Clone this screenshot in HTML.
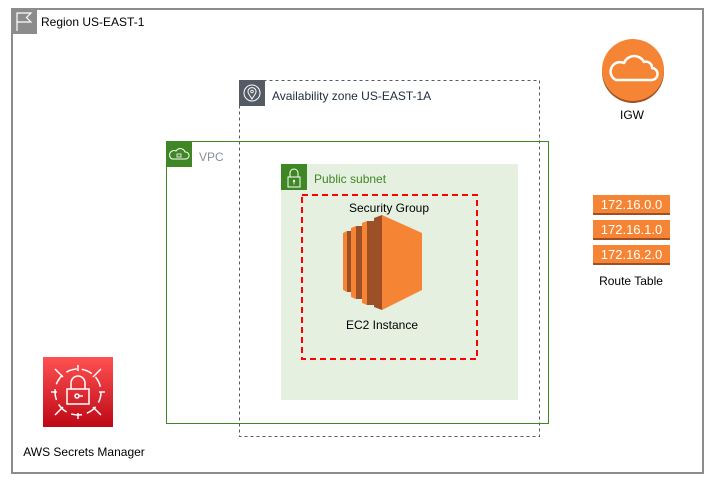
<!DOCTYPE html>
<html><head><meta charset="utf-8"><style>
html,body{margin:0;padding:0;background:#fff;}
svg{display:block;font-family:"Liberation Sans",Arial,sans-serif;}
</style></head><body>
<svg width="715" height="485" viewBox="0 0 715 485" xmlns="http://www.w3.org/2000/svg">
<!-- Region -->
<rect x="12" y="9" width="691" height="464" fill="#fff" stroke="#8c8c8c" stroke-width="2"/>
<rect x="11" y="8" width="26" height="26" fill="#8c8c8c"/>
<path d="M17 31 V13 H31 L26.5 17.5 L31 22 H17" fill="none" stroke="#fff" stroke-width="1.2"/>
<text x="41" y="26" font-size="12" fill="#000">Region US-EAST-1</text>

<!-- AZ -->
<rect x="239.5" y="80.5" width="300" height="356" fill="none" stroke="#545b64" stroke-width="1" stroke-dasharray="3,3"/>
<rect x="239" y="80" width="26" height="26" fill="#545b64"/>
<circle cx="252" cy="93" r="8" fill="none" stroke="#fff" stroke-width="1"/>
<path d="M252 99 L248.5 93.5 A4 4 0 1 1 255.5 93.5 Z" fill="none" stroke="#fff" stroke-width="1"/>
<circle cx="252" cy="91.5" r="1.3" fill="none" stroke="#fff" stroke-width="0.8"/>
<text x="272" y="100" font-size="12" fill="#232f3e">Availability zone US-EAST-1A</text>

<!-- VPC -->
<rect x="166.5" y="141.5" width="382" height="282" fill="none" stroke="#3f8624" stroke-width="1"/>
<rect x="166" y="141" width="26" height="26" fill="#3f8624"/>
<path d="M172 159 H186 A3.5 3.5 0 0 0 185 152 A5 5 0 0 0 176 151 A4 4 0 0 0 172 159 Z" fill="none" stroke="#fff" stroke-width="1"/>
<rect x="177" y="154" width="4" height="3" fill="none" stroke="#fff" stroke-width="0.8"/>
<text x="199" y="161" font-size="12" fill="#879196">VPC</text>

<!-- Subnet -->
<rect x="281" y="164" width="237" height="236" fill="#e6f0e1"/>
<rect x="281" y="164" width="26" height="26" fill="#3f8624"/>
<rect x="288" y="177" width="12" height="10" fill="none" stroke="#fff" stroke-width="1"/>
<path d="M290 177 V173 A4 4 0 0 1 298 173 V177" fill="none" stroke="#fff" stroke-width="1"/>
<circle cx="294" cy="181" r="1.2" fill="#fff"/><line x1="294" y1="181" x2="294" y2="184.5" stroke="#fff" stroke-width="0.8"/>
<text x="314" y="183" font-size="12" fill="#3f8624">Public subnet</text>

<!-- Security group -->
<rect x="302" y="195" width="175" height="164" fill="none" stroke="#ff0000" stroke-width="2" stroke-dasharray="6,4"/>
<text x="389" y="212" font-size="12" text-anchor="middle" fill="#000">Security Group</text>

<!-- EC2 -->
<g>
<polygon points="343,233 347,231 351,231 351,292 347,292 343,290" fill="#f58534"/>
<polygon points="347,231 351,231 351,292 347,292" fill="#9d5025"/>
<polygon points="351,228 356,226 362,226 362,299 356,299 351,297" fill="#f58534"/>
<polygon points="356,226 362,226 362,299 356,299" fill="#9d5025"/>
<polygon points="362,223 367,221 374,221 374,305 367,305 362,303" fill="#f58534"/>
<polygon points="367,221 374,221 374,305 367,305" fill="#9d5025"/>
<polygon points="374,218 382,215 382,310 374,307" fill="#9d5025"/>
<polygon points="382,215 422,233 422,290 382,310" fill="#f58534"/>
</g>
<text x="382" y="329" font-size="12" text-anchor="middle" fill="#000">EC2 Instance</text>

<!-- IGW -->
<circle cx="633" cy="72" r="31" fill="#9d5025"/>
<circle cx="633" cy="70" r="31" fill="#f58534"/>
<path d="M616 80 H651 A6 6 0 0 0 652 68 A6 6 0 0 0 644 62 A11 11 0 0 0 624 63 A8 8 0 0 0 616 80 Z" fill="none" stroke="#fff" stroke-width="2.5" stroke-linejoin="round"/>
<text x="632" y="119" font-size="12" text-anchor="middle" fill="#000">IGW</text>

<!-- Route table -->
<g font-size="13" fill="#fff" text-anchor="middle">
<rect x="593" y="195" width="77" height="20" fill="#9d5025"/><rect x="593" y="195" width="77" height="18" fill="#f58534"/>
<text x="631.5" y="209">172.16.0.0</text>
<rect x="593" y="220" width="77" height="20" fill="#9d5025"/><rect x="593" y="220" width="77" height="18" fill="#f58534"/>
<text x="631.5" y="234">172.16.1.0</text>
<rect x="593" y="245" width="77" height="20" fill="#9d5025"/><rect x="593" y="245" width="77" height="18" fill="#f58534"/>
<text x="631.5" y="259">172.16.2.0</text>
</g>
<text x="631" y="285" font-size="12" text-anchor="middle" fill="#000">Route Table</text>

<!-- Secrets Manager -->
<defs><linearGradient id="sm" x1="0" y1="1" x2="0" y2="0"><stop offset="0" stop-color="#bd0816"/><stop offset="1" stop-color="#ff5252"/></linearGradient></defs>
<rect x="43" y="357" width="70" height="70" fill="url(#sm)"/>
<g stroke="#fff" stroke-width="1.5" fill="none">
<circle cx="78" cy="392" r="23" stroke-dasharray="11,5"/>
<line x1="78" y1="365" x2="78" y2="371"/><line x1="78" y1="413" x2="78" y2="419"/>
<line x1="51" y1="392" x2="57" y2="392"/><line x1="99" y1="392" x2="105" y2="392"/>
<line x1="55" y1="369" x2="63" y2="377"/><line x1="93" y1="407" x2="101" y2="415"/>
<line x1="101" y1="369" x2="93" y2="377"/><line x1="63" y1="407" x2="55" y2="415"/>
<rect x="67" y="389" width="22" height="15"/>
<path d="M71 389 V383 A7 7 0 0 1 85 383 V389"/>
<circle cx="77" cy="396" r="2"/><line x1="79" y1="396" x2="83" y2="396"/>
</g>
<text x="84" y="456" font-size="12" text-anchor="middle" fill="#000">AWS Secrets Manager</text>
</svg>
</body></html>
